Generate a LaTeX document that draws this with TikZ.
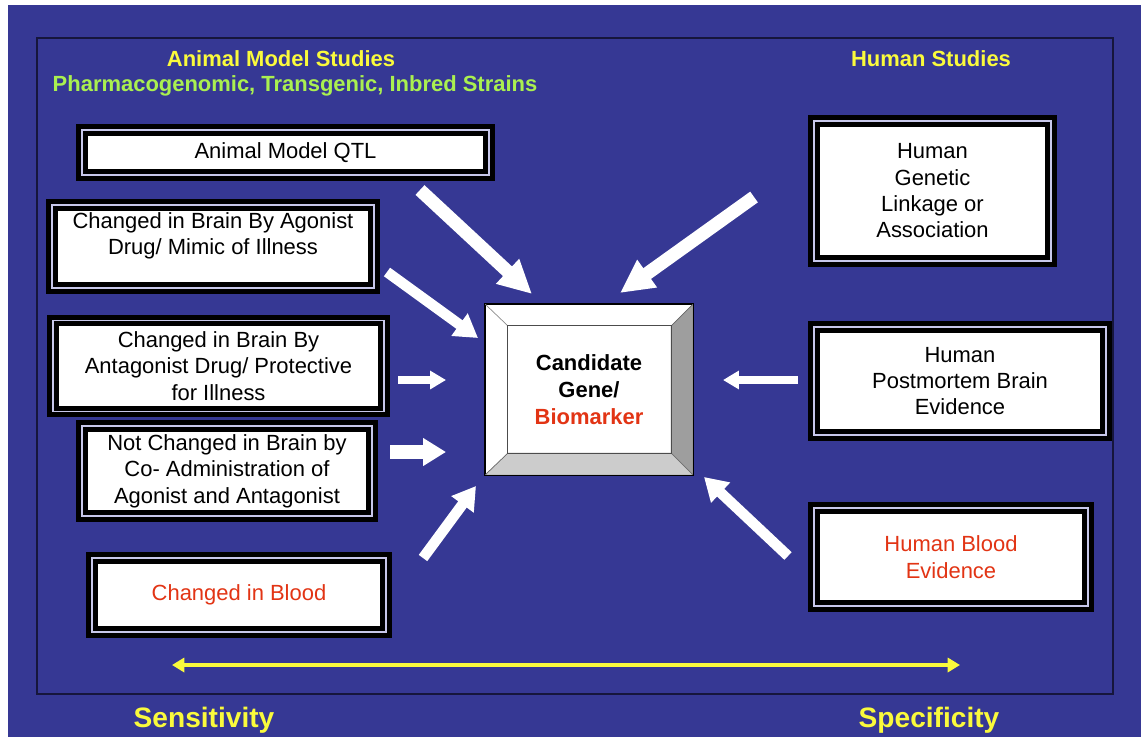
\documentclass[tikz,border=0pt]{standalone}
\usepackage{fontspec}
\setmainfont{Liberation Sans}
\usepackage{tikz}
\usetikzlibrary{arrows.meta,calc}
\definecolor{slideblue}{RGB}{54,56,148}
\definecolor{framenavy}{RGB}{22,22,60}
\definecolor{headyellow}{RGB}{250,250,60}
\definecolor{strainsgreen}{RGB}{170,240,80}
\definecolor{markerred}{RGB}{226,52,20}
\definecolor{rimlilac}{RGB}{200,200,235}

\begin{document}
\begin{tikzpicture}[x=0.02cm, y=-0.02cm]
    \tikzstyle{studybox} = [rectangle, draw=black, line width=2.9pt, double=rimlilac, double distance=1pt, fill=white, align=center, inner sep=0pt, font=\fontsize{12.5}{15}\selectfont]
    \tikzstyle{genebox} = [rectangle, draw=black, thin, fill=white, align=center, inner sep=0pt, minimum width=4.16cm, minimum height=3.42cm, font=\bfseries\fontsize{12.5}{15.3}\selectfont]
    \tikzstyle{heading} = [text=headyellow, anchor=base, font=\bfseries\fontsize{12.5}{15}\selectfont]
    \tikzstyle{axislabel} = [text=headyellow, anchor=base, font=\bfseries\fontsize{16}{19}\selectfont]
    \tikzstyle{bigflow} = [white, line width=7.5pt, -{Triangle[width=18pt, length=19pt]}]
    \tikzstyle{flow} = [white, line width=6pt, -{Triangle[width=15pt, length=13pt]}]
    \tikzstyle{smallflow} = [white, line width=5pt, -{Triangle[width=10pt, length=9pt]}]
    \tikzstyle{spanarrow} = [headyellow, line width=2.3pt, {Triangle[width=8pt, length=7pt]}-{Triangle[width=8pt, length=7pt]}]
    \useasboundingbox (0,0) rectangle (1141,737);
    \fill[slideblue] (8,5) rectangle (1141,737);
    \draw[framenavy, line width=1.2pt] (37,38) rectangle (1113,694);

    \node[heading] (animal) at (281, 66.5) {Animal Model Studies};
    \node[heading, text=strainsgreen] (strains) at (295, 91) {Pharmacogenomic, Transgenic, Inbred Strains};
    \node[heading] (human) at (931, 66.5) {Human Studies};

    \node[studybox, minimum width=8.14cm, minimum height=0.9cm] (qtl) at (285.5, 152.5) {Animal Model QTL};
    \node[studybox, minimum width=6.44cm, minimum height=1.66cm] (agonist) at (213, 246.5) {Changed in Brain By Agonist\\Drug/ Mimic of Illness\\\phantom{X}};
    \node[studybox, minimum width=6.62cm, minimum height=1.82cm] (antagonist) at (218.5, 366) {Changed in Brain By\\Antagonist Drug/ Protective\\for Illness};
    \node[studybox, minimum width=5.8cm, minimum height=1.8cm] (coadmin) at (227, 471) {Not Changed in Brain by\\Co- Administration of\\Agonist and Antagonist};
    \node[studybox, minimum width=5.88cm, minimum height=1.48cm, text=markerred] (blood) at (239, 595) {Changed in Blood};
    \node[studybox, minimum width=4.74cm, minimum height=2.8cm] (linkage) at (932.5, 191) {Human\\Genetic\\Linkage or\\Association};
    \node[studybox, minimum width=5.84cm, minimum height=2.16cm] (postmortem) at (960, 381) {Human\\Postmortem Brain\\Evidence};
    \node[studybox, minimum width=5.48cm, minimum height=1.96cm, text=markerred] (hblood) at (951, 557) {Human Blood\\Evidence};

    \node[genebox] (gene) at (589, 389.5) {Candidate\\Gene/\\\textcolor{markerred}{Biomarker}};
    \coordinate (gnw) at ($(gene.north west)+(23,22)$); \coordinate (gne) at ($(gene.north east)+(-22,22)$);
    \coordinate (gse) at ($(gene.south east)+(-22,-22)$); \coordinate (gsw) at ($(gene.south west)+(23,-22)$);
    \filldraw[fill=black!38, draw=black!60, thin] (gene.north east) -- (gne) -- (gse) -- (gene.south east) -- cycle;
    \filldraw[fill=black!20, draw=black!60, thin] (gene.south west) -- (gsw) -- (gse) -- (gene.south east) -- cycle;
    \draw[black!45, thin] (gene.north west) -- (gnw);
    \draw[black!70, thin] (gnw) rectangle (gse);
    \draw[black, thin] (gene.north west) rectangle (gene.south east);

    \coordinate (qtlTail) at (420, 190); \coordinate (qtlTip) at (532, 294);
    \coordinate (linkTail) at (754, 197); \coordinate (linkTip) at (620, 293);
    \coordinate (agonistTail) at (387, 272); \coordinate (agonistTip) at (478, 338);
    \coordinate (antagonistTail) at (398, 380); \coordinate (antagonistTip) at (446, 380);
    \coordinate (coadminTail) at (390, 452); \coordinate (coadminTip) at (446, 452);
    \coordinate (bloodTail) at (423, 558); \coordinate (bloodTip) at (476, 486);
    \coordinate (postmortemTail) at (798, 380); \coordinate (postmortemTip) at (723, 380);
    \coordinate (hbloodTail) at (788, 556); \coordinate (hbloodTip) at (704, 477);
    \draw[bigflow] (qtlTail) -- (qtlTip); \draw[bigflow] (linkTail) -- (linkTip);
    \draw[flow] (agonistTail) -- (agonistTip); \draw[smallflow] (antagonistTail) -- (antagonistTip);
    \draw[flow, line width=7.5pt] (coadminTail) -- (coadminTip); \draw[flow] (bloodTail) -- (bloodTip);
    \draw[smallflow] (postmortemTail) -- (postmortemTip); \draw[flow] (hbloodTail) -- (hbloodTip);

    \coordinate (sensEnd) at (172, 665); \coordinate (specEnd) at (960, 665);
    \draw[spanarrow] (sensEnd) -- (specEnd);
    \node[axislabel] (sens) at (204, 727) {Sensitivity};
    \node[axislabel] (spec) at (929, 727) {Specificity};
\end{tikzpicture}
\end{document}
